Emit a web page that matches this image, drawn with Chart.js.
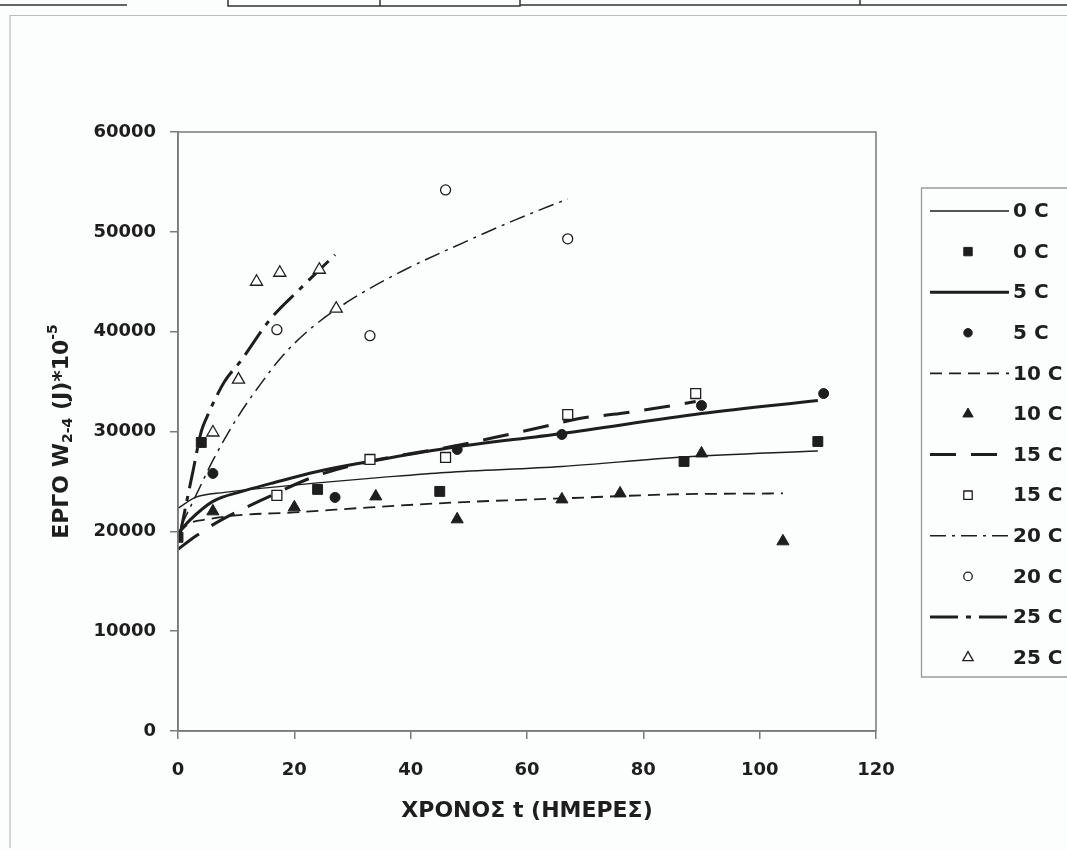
<!DOCTYPE html>
<html>
<head>
<meta charset="utf-8">
<script src="https://cdn.jsdelivr.net/npm/chart.js@4.4.0/dist/chart.umd.min.js"></script>
<style>
  html, body { margin: 0; padding: 0; background: #fcfdfd; }
  #wrap { width: 1067px; height: 850px; }
</style>
</head>
<body>
<div id="wrap"><canvas id="chart" width="1067" height="850"></canvas></div>
<script>
// axis ticks
const xTicks = [0, 20, 40, 60, 80, 100, 120];
const yTicks = [0, 10000, 20000, 30000, 40000, 50000, 60000];

// fitted curves, time (days) / work
const line0T = [0, 3, 8, 16, 24, 35, 46, 66, 87, 110];
const line0W = [22300, 23400, 23900, 24400, 24850, 25400, 25900, 26500, 27450, 28050];
const line5T = [0, 2, 6, 11, 16, 24, 33, 46, 66, 90, 110];
const line5W = [19800, 21100, 23000, 24000, 24800, 26000, 27000, 28300, 29800, 31800, 33100];
const line10T = [0, 2, 5, 10, 20, 33, 48, 66, 85, 104];
const line10W = [19800, 20800, 21200, 21600, 21900, 22400, 22900, 23300, 23700, 23800];
const line15T = [0, 3, 7, 15, 24, 33, 48, 56, 63, 69, 76, 84, 89];
const line15W = [18200, 19500, 21000, 23300, 25600, 27000, 28600, 29600, 30500, 31300, 31800, 32500, 33000];
const line20T = [0.5, 3, 6, 10, 14, 18, 23, 30, 39, 49, 58, 67];
const line20W = [20500, 23500, 27100, 31200, 34600, 37600, 40400, 43300, 46200, 48900, 51200, 53300];
const line25T = [0.3, 1.5, 2.6, 4, 5, 8, 10.7, 15.8, 21, 27];
const line25W = [19500, 23000, 26100, 30000, 31500, 35000, 37000, 41200, 44300, 47700];

// measured points
const pts0T = [0, 4, 24, 45, 87, 110];
const pts0W = [19400, 28900, 24200, 24000, 27000, 29000];
const pts5T = [6, 27, 48, 66, 90, 111];
const pts5W = [25800, 23400, 28200, 29700, 32600, 33800];
const pts10T = [6, 20, 34, 48, 66, 76, 90, 104];
const pts10W = [22000, 22400, 23500, 21200, 23200, 23800, 27800, 19000];
const pts15T = [17, 33, 46, 67, 89];
const pts15W = [23600, 27200, 27400, 31700, 33800];
const pts20T = [17, 33, 46, 67];
const pts20W = [40200, 39600, 54200, 49300];
const pts25T = [6, 10.4, 13.5, 17.5, 24.3, 27.2];
const pts25W = [29900, 35200, 45000, 45900, 46200, 42300];

const INK = '#1e1e1e';
const FONT = '"DejaVu Sans", "Liberation Sans", sans-serif';

const zip = (ts, ws) => ts.map((t, i) => ({ x: t, y: ws[i] }));

function lineSet(label, ts, ws, width, dash) {
    return {
        label, data: zip(ts, ws), showLine: true,
        borderColor: INK, borderWidth: width, borderDash: dash,
        pointRadius: 0, cubicInterpolationMode: 'monotone', order: 2
    };
}

function pointSet(label, ts, ws, style, radius, filled) {
    return {
        label, data: zip(ts, ws), showLine: false,
        pointStyle: style, pointRadius: radius,
        pointBackgroundColor: filled ? INK : '#ffffff',
        pointBorderColor: INK, pointBorderWidth: filled ? 1 : 1.3,
        order: 1
    };
}

const datasets = [
    lineSet('0 C', line0T, line0W, 1.4, []),
    pointSet('0 C', pts0T, pts0W, 'rect', 7, true),
    lineSet('5 C', line5T, line5W, 3, []),
    pointSet('5 C', pts5T, pts5W, 'circle', 5, true),
    lineSet('10 C', line10T, line10W, 1.8, [12, 7]),
    pointSet('10 C', pts10T, pts10W, 'triangle', 7, true),
    lineSet('15 C', line15T, line15W, 3, [26, 15]),
    pointSet('15 C', pts15T, pts15W, 'rect', 7, false),
    lineSet('20 C', line20T, line20W, 1.5, [16, 6, 3, 6]),
    pointSet('20 C', pts20T, pts20W, 'circle', 5, false),
    lineSet('25 C', line25T, line25W, 3, [28, 8, 5, 8]),
    pointSet('25 C', pts25T, pts25W, 'triangle', 7, false)
];

// page background, frame, plot box, axis titles and the legend
const decor = {
    id: 'decor',
    beforeDraw(chart) {
        const ctx = chart.ctx;
        ctx.save();
        ctx.fillStyle = '#fcfdfd';
        ctx.fillRect(0, 0, chart.width, chart.height);
        // scraps of the table above
        ctx.strokeStyle = '#333';
        ctx.lineWidth = 1.5;
        ctx.beginPath();
        ctx.moveTo(0, 5); ctx.lineTo(127, 5);
        ctx.moveTo(228, 0); ctx.lineTo(228, 6); ctx.lineTo(520, 6); ctx.lineTo(520, 0);
        ctx.moveTo(380, 0); ctx.lineTo(380, 6);
        ctx.moveTo(520, 5); ctx.lineTo(1067, 5);
        ctx.moveTo(860, 0); ctx.lineTo(860, 5);
        ctx.stroke();
        // outer chart frame
        ctx.strokeStyle = '#b9bcbc';
        ctx.lineWidth = 1.2;
        ctx.beginPath();
        ctx.moveTo(10, 848); ctx.lineTo(10, 15.5); ctx.lineTo(1067, 15.5);
        ctx.stroke();
        ctx.restore();
    },
    afterDraw(chart) {
        const ctx = chart.ctx;
        const a = chart.chartArea;
        ctx.save();
        ctx.strokeStyle = '#7a7a7a';
        ctx.lineWidth = 1.5;
        ctx.strokeRect(a.left, a.top, a.right - a.left, a.bottom - a.top);

        ctx.fillStyle = INK;
        ctx.textBaseline = 'middle';
        ctx.textAlign = 'center';
        ctx.font = 'bold 22px ' + FONT;
        ctx.fillText('ΧΡΟΝΟΣ t (ΗΜΕΡΕΣ)', (a.left + a.right) / 2, 811);

        // y title with sub/superscript
        const parts = [
            { t: 'ΕΡΓΟ W', size: 22, dy: 0 },
            { t: '2-4', size: 14, dy: 6 },
            { t: ' (J)*10', size: 22, dy: 0 },
            { t: '-5', size: 14, dy: -9 }
        ];
        let total = 0;
        parts.forEach(p => { ctx.font = 'bold ' + p.size + 'px ' + FONT; p.w = ctx.measureText(p.t).width; total += p.w; });
        ctx.translate(62, (a.top + a.bottom) / 2);
        ctx.rotate(-Math.PI / 2);
        ctx.textAlign = 'left';
        let x = -total / 2;
        parts.forEach(p => {
            ctx.font = 'bold ' + p.size + 'px ' + FONT;
            ctx.fillText(p.t, x, p.dy);
            x += p.w;
        });
        ctx.restore();

        // legend
        ctx.save();
        ctx.strokeStyle = '#9a9a9a';
        ctx.lineWidth = 1.3;
        ctx.beginPath();
        ctx.moveTo(1067, 188); ctx.lineTo(921.5, 188); ctx.lineTo(921.5, 677); ctx.lineTo(1067, 677);
        ctx.stroke();
        ctx.font = 'bold 20px ' + FONT;
        ctx.textBaseline = 'middle';
        ctx.textAlign = 'left';
        datasets.forEach((ds, i) => {
            const y = 211 + i * 40.6;
            if (ds.showLine) {
                ctx.strokeStyle = INK;
                ctx.lineWidth = ds.borderWidth;
                ctx.setLineDash(ds.borderDash);
                ctx.beginPath();
                ctx.moveTo(930, y); ctx.lineTo(1009, y);
                ctx.stroke();
                ctx.setLineDash([]);
            } else {
                ctx.lineWidth = ds.pointBorderWidth;
                ctx.strokeStyle = INK;
                ctx.fillStyle = ds.pointBackgroundColor;
                Chart.helpers.drawPoint(ctx, {
                    pointStyle: ds.pointStyle, radius: ds.pointRadius * 0.85,
                    rotation: 0, borderWidth: ds.pointBorderWidth
                }, 968, y);
            }
            ctx.fillStyle = INK;
            ctx.fillText(ds.label, 1013, y + 1);
        });
        ctx.restore();
    }
};

const tickFont = { family: FONT, size: 18, weight: 'bold' };

new Chart(document.getElementById('chart'), {
    type: 'scatter',
    data: { datasets },
    plugins: [decor],
    options: {
        responsive: false,
        animation: false,
        events: [],
        layout: { padding: { left: 0, top: 132, right: 191, bottom: 0 } },
        plugins: { legend: { display: false }, tooltip: { enabled: false } },
        scales: {
            x: {
                type: 'linear', min: 0, max: 120,
                afterBuildTicks: s => { s.ticks = xTicks.map(v => ({ value: v })); },
                afterFit: s => { s.height = 119; },
                border: { display: true, color: '#7a7a7a', width: 1.5 },
                grid: { drawOnChartArea: false, drawTicks: true, tickLength: 8, color: '#7a7a7a', lineWidth: 1.5 },
                ticks: { color: INK, padding: 21, font: tickFont, maxRotation: 0, callback: v => String(v) }
            },
            y: {
                type: 'linear', min: 0, max: 60000,
                afterBuildTicks: s => { s.ticks = yTicks.map(v => ({ value: v })); },
                afterFit: s => { s.width = 178; },
                border: { display: true, color: '#7a7a7a', width: 1.5 },
                grid: { drawOnChartArea: false, drawTicks: true, tickLength: 8, color: '#7a7a7a', lineWidth: 1.5 },
                ticks: { color: INK, padding: 14, font: tickFont, callback: v => String(v) }
            }
        }
    }
});
</script>
</body>
</html>
